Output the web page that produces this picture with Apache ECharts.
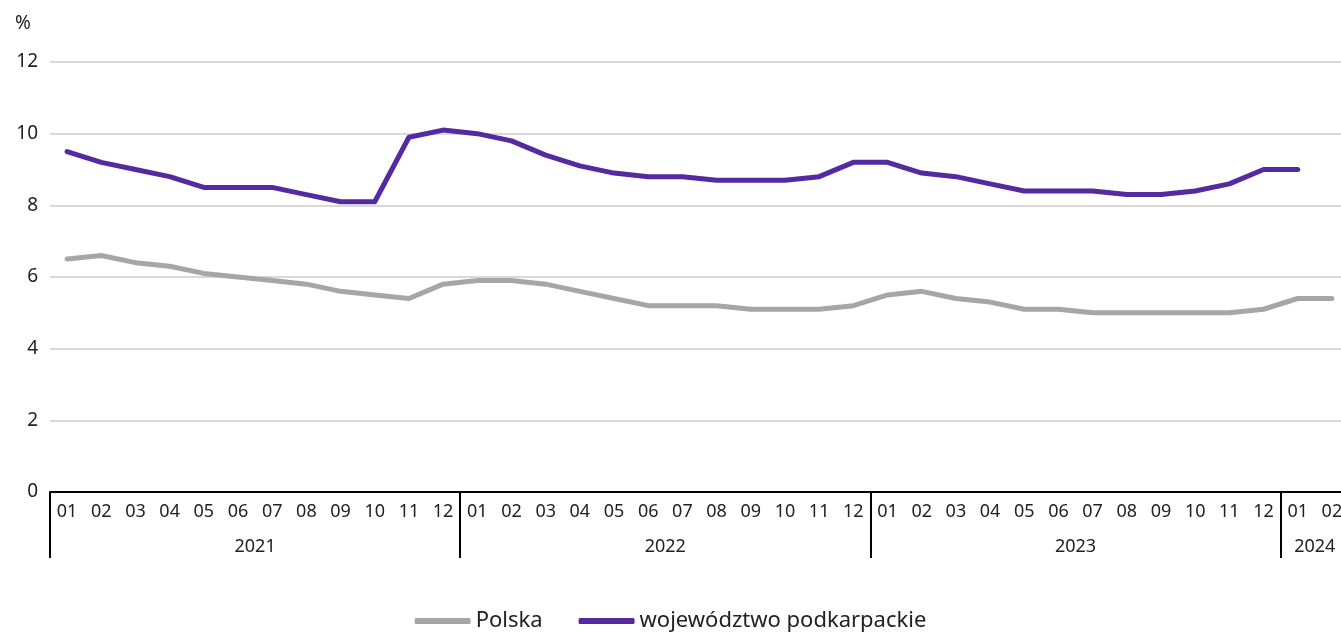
<!DOCTYPE html>
<html>
<head>
    <meta charset="utf-8">
    <title>Stopa bezrobocia</title>
    <script src="https://cdn.jsdelivr.net/npm/echarts@6/dist/echarts.min.js"></script>
    <style>
        html, body { margin: 0; padding: 0; background: #fff; }
    </style>
</head>
<body>
<div id="main" style="width: 1341px;height:635px;"></div>
<script type="text/javascript">

    // months 2021-01 .. 2024-02
    var months = [
        '01','02','03','04','05','06','07','08','09','10','11','12',
        '01','02','03','04','05','06','07','08','09','10','11','12',
        '01','02','03','04','05','06','07','08','09','10','11','12',
        '01','02'
    ];
    var years = ['2021', '2022', '2023', '2024'];
    var monthsPerYear = [12, 12, 12, 2];

    var polska = [
        6.5, 6.6, 6.4, 6.3, 6.1, 6.0, 5.9, 5.8, 5.6, 5.5, 5.4, 5.8,
        5.9, 5.9, 5.8, 5.6, 5.4, 5.2, 5.2, 5.2, 5.1, 5.1, 5.1, 5.2,
        5.5, 5.6, 5.4, 5.3, 5.1, 5.1, 5.0, 5.0, 5.0, 5.0, 5.0, 5.1,
        5.4, 5.4
    ];
    var podkarpackie = [
        9.5, 9.2, 9.0, 8.8, 8.5, 8.5, 8.5, 8.3, 8.1, 8.1, 9.9, 10.1,
        10.0, 9.8, 9.4, 9.1, 8.9, 8.8, 8.8, 8.7, 8.7, 8.7, 8.8, 9.2,
        9.2, 8.9, 8.8, 8.6, 8.4, 8.4, 8.4, 8.3, 8.3, 8.4, 8.6, 9.0,
        9.0
    ];

    // year label positions (middle of each year's block) and boundaries
    var yearMid = {};
    var yearStart = {};
    var acc = 0;
    for (var i = 0; i < years.length; i++) {
        yearStart[acc] = true;
        yearMid[acc + monthsPerYear[i] / 2] = years[i];
        acc += monthsPerYear[i];
    }

    var font = 'Noto Sans';
    var myChart = echarts.init(document.getElementById('main'));

    var option = {
        animation: false,
        textStyle: { fontFamily: font },
        title: {
            text: '%',
            left: 10,
            top: 9,
            textStyle: { fontFamily: font, fontSize: 19, fontWeight: 'normal', color: '#222' }
        },
        legend: {
            top: 605,
            left: 'center',
            icon: 'roundRect',
            itemWidth: 56,
            itemHeight: 6,
            itemGap: 36,
            textStyle: { fontFamily: font, fontSize: 22, color: '#222' },
            data: ['Polska', 'województwo podkarpackie']
        },
        grid: {
            left: 50,
            width: 1299,
            top: 62,
            height: 430,
            containLabel: false,
            outerBoundsMode: 'none'
        },
        xAxis: [
            {
                type: 'category',
                data: months,
                boundaryGap: true,
                axisLine: { show: true, lineStyle: { color: '#000', width: 2 } },
                axisTick: { show: false },
                axisLabel: { interval: 0, fontSize: 18, color: '#222', margin: 11 },
                splitLine: { show: false }
            },
            {
                type: 'category',
                data: months,
                boundaryGap: true,
                position: 'bottom',
                axisLine: { show: false },
                axisTick: {
                    show: true,
                    length: 66,
                    interval: function (index) { return !!yearStart[index]; },
                    lineStyle: { color: '#000', width: 2 }
                },
                axisLabel: { show: false },
                splitLine: { show: false }
            },
            {
                type: 'value',
                min: 0,
                max: 38,
                interval: 1,
                position: 'bottom',
                axisLine: { show: false },
                axisTick: { show: false },
                splitLine: { show: false },
                axisLabel: {
                    margin: 46,
                    fontSize: 18,
                    color: '#222',
                    formatter: function (v) { return yearMid[v] || ''; }
                }
            }
        ],
        yAxis: {
            type: 'value',
            min: 0,
            max: 12,
            interval: 2,
            axisLine: { show: false },
            axisTick: { show: false },
            axisLabel: { fontSize: 19, color: '#222', margin: 12 },
            splitLine: { lineStyle: { color: '#d9d9d9', width: 2 } }
        },
        series: [
            {
                name: 'Polska',
                type: 'line',
                data: polska,
                symbol: 'none',
                itemStyle: { color: '#a6a6a6' },
                lineStyle: { color: '#a6a6a6', width: 5, cap: 'round', join: 'round' }
            },
            {
                name: 'województwo podkarpackie',
                type: 'line',
                data: podkarpackie,
                symbol: 'none',
                itemStyle: { color: '#5529a0' },
                lineStyle: { color: '#5529a0', width: 5, cap: 'round', join: 'round' }
            }
        ]
    };

    myChart.setOption(option);

</script>
</body>
</html>
